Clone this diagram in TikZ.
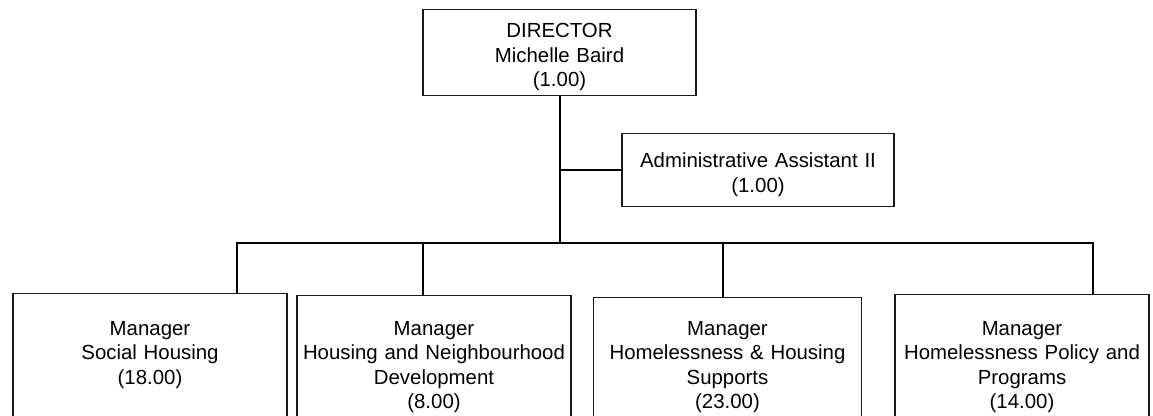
\documentclass[tikz,border=0pt]{standalone}
\usepackage{fontspec}
\setmainfont{Liberation Sans}
\usepackage{xcolor}
\usetikzlibrary{positioning,calc}
\definecolor{Ink}{HTML}{000000}
\definecolor{Edge}{HTML}{1A1A1A}
\newcommand{\orgfont}{\fontsize{15.3}{18.4}\selectfont}

\begin{document}
\begin{tikzpicture}[x=0.75pt,y=-0.75pt,
  post/.style={draw=Edge,line width=0.9pt,align=center,font=\orgfont,inner sep=2pt,anchor=north},
  head/.style n args={3}{post,text width=#1,text height=#2,text depth=#3},
  mgr/.style 2 args={post,text width=#1,inner ysep=#2,text height=11pt,text depth=120pt},
  link/.style={draw=Ink,line width=1.5pt}]
\useasboundingbox (0,0) rectangle (1153,416);
\clip (0,0) rectangle (1153,416);
\node[head={200.75pt}{19.2pt}{41.3pt}] (dir) at (559.5,9) {DIRECTOR\\Michelle Baird\\(1.00)};
\node[head={200pt}{23.7pt}{27.05pt}] (adm) at (758,133) {Administrative Assistant II\\(1.00)};
\node[mgr={201.5pt}{20.1pt}] (m1) at (150,293) {Manager\\Social Housing\\(18.00)};
\node[mgr={201.5pt}{18.6pt}] (m2) at (434,295) {Manager\\Housing and Neighbourhood\\Development\\(8.00)};
\node[mgr={196.75pt}{17.1pt}] (m3) at (727.5,297) {Manager\\Homelessness \& Housing\\Supports\\(23.00)};
\node[mgr={186.5pt}{19.4pt}] (m4) at (1022,294) {Manager\\Homelessness Policy and\\Programs\\(14.00)};
\coordinate (b1) at (237,243);
\coordinate (b2) at (423,243);
\coordinate (b3) at (723,243);
\coordinate (b4) at (1093,243);
\draw[link] (dir.south) -- (dir.south |- b1);
\draw[link] (dir.south |- adm.west) -- (adm.west);
\draw[link] (b1 |- m1.north) -- (b1) -- (b4) -- (b4 |- m4.north);
\foreach \i in {2,3} \draw[link] (b\i) -- (b\i |- m\i.north);
\end{tikzpicture}
\end{document}
